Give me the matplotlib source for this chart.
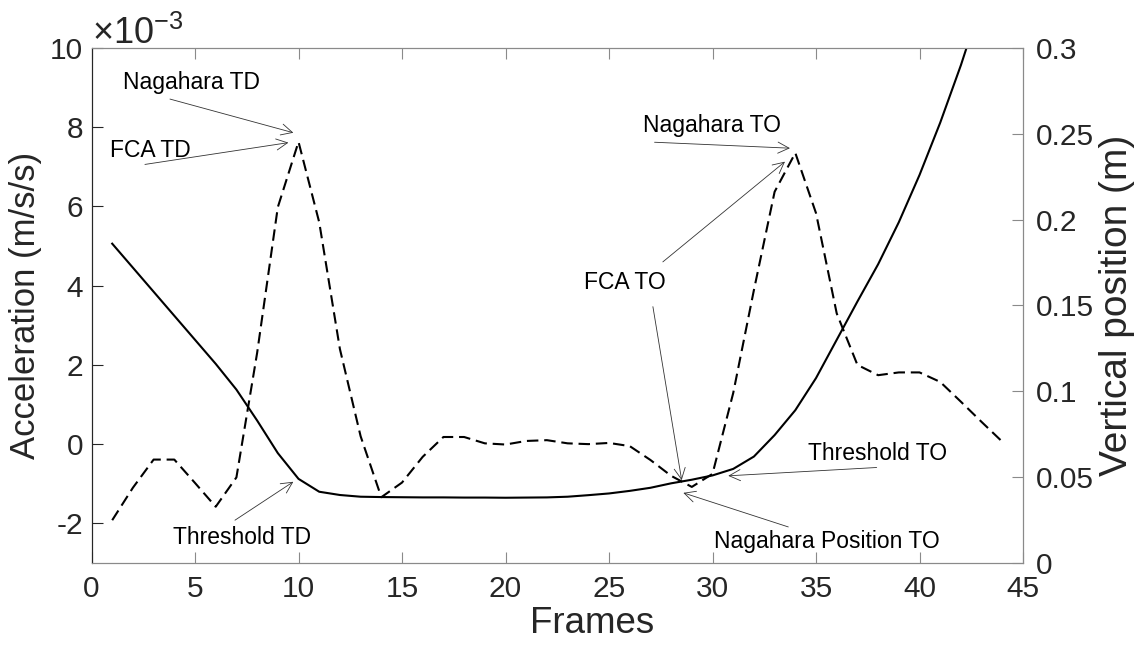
import matplotlib
matplotlib.use("Agg")
import matplotlib.pyplot as plt
from matplotlib.ticker import ScalarFormatter

plt.rcParams['font.family'] = ['Liberation Sans', 'DejaVu Sans']
plt.rcParams['mathtext.fontset'] = 'custom'
plt.rcParams['mathtext.rm'] = 'Liberation Sans'
plt.rcParams['mathtext.it'] = 'Liberation Sans:italic'
plt.rcParams['axes.unicode_minus'] = False

# Frame index
frames = list(range(1, 45))

# Vertical acceleration of the marker (m/s/s)
acceleration = [
    -1.92e-3, -1.10e-3, -0.39e-3, -0.39e-3, -0.98e-3, -1.58e-3, -0.84e-3, 2.30e-3,
    5.98e-3, 7.63e-3, 5.60e-3, 2.40e-3, 0.20e-3, -1.34e-3, -0.97e-3, -0.32e-3,
    0.18e-3, 0.18e-3, 0.02e-3, -0.01e-3, 0.08e-3, 0.10e-3, 0.02e-3, 0.00e-3,
    0.03e-3, -0.05e-3, -0.40e-3, -0.80e-3, -1.08e-3, -0.75e-3, 1.29e-3, 3.89e-3,
    6.37e-3, 7.35e-3, 5.83e-3, 3.30e-3, 2.00e-3, 1.74e-3, 1.81e-3, 1.81e-3,
    1.57e-3, 1.07e-3, 0.56e-3, 0.06e-3,
]

# Vertical position of the marker (m)
position = [
    0.186, 0.172, 0.158, 0.144, 0.130, 0.116, 0.101, 0.083,
    0.064, 0.049, 0.0415, 0.0396, 0.0386, 0.0384, 0.0383, 0.0382,
    0.0382, 0.0381, 0.0381, 0.0380, 0.0381, 0.0382, 0.0386, 0.0395,
    0.0405, 0.0420, 0.0438, 0.0464, 0.0485, 0.0510, 0.0548, 0.0620,
    0.0745, 0.0890, 0.1077, 0.1300, 0.1523, 0.1740, 0.1985, 0.2260,
    0.2565, 0.2900, 0.327, 0.367,
]

x_ticks = list(range(0, 46, 5))
acc_ticks = [-2e-3, 0, 2e-3, 4e-3, 6e-3, 8e-3, 10e-3]
pos_ticks = [0, 0.05, 0.1, 0.15, 0.2, 0.25, 0.3]
pos_tick_labels = ['0', '0.05', '0.1', '0.15', '0.2', '0.25', '0.3']

# Event markers: (label, text anchor (frame, acc), arrows [(tail, head)])
events = [
    ("Nagahara TD", (1.52, 8.96e-3), [((3.79, 8.71e-3), (9.75, 7.86e-3))]),
    ("FCA TD", (0.89, 7.24e-3), [((2.58, 7.06e-3), (9.51, 7.61e-3))]),
    ("Threshold TD", (3.92, -2.51e-3), [((6.93, -1.92e-3), (9.75, -0.95e-3))]),
    ("Nagahara TO", (26.66, 7.89e-3), [((27.2, 7.62e-3), (33.74, 7.47e-3))]),
    ("FCA TO", (23.79, 3.91e-3), [((27.6, 4.60e-3), (33.5, 7.13e-3)),
                                 ((27.12, 3.47e-3), (28.51, -0.91e-3))]),
    ("Threshold TO", (34.63, -0.39e-3), [((37.93, -0.59e-3), (30.76, -0.80e-3))]),
    ("Nagahara Position TO", (30.07, -2.61e-3), [((33.66, -2.09e-3), (28.59, -1.23e-3))]),
]


class ScaledFormatter(ScalarFormatter):
    """Scalar formatter with a common exponent; tick labels in plain text."""

    def __call__(self, x, pos=None):
        return f'{x / 10 ** self.orderOfMagnitude:g}'


fig = plt.figure(figsize=(11.41, 6.48), dpi=100)
ax = fig.add_axes([0.0802, 0.1312, 0.8164, 0.7948])
ax2 = ax.twinx()

dark = '#262626'
grey = '#8a8a8a'

ax.plot(frames, acceleration, color='black', lw=1.5, dashes=(5.5, 2.8))
ax2.plot(frames, position, color='black', lw=1.5)

ax.set_xlim(0, 45)
ax.set_ylim(-3e-3, 10e-3)
ax2.set_ylim(0, 0.3)

ax.set_xticks(x_ticks)
ax.set_yticks(acc_ticks)
ax2.set_yticks(pos_ticks)
ax2.set_yticklabels(pos_tick_labels)

fmt = ScaledFormatter(useMathText=True)
fmt.set_powerlimits((-3, -3))
ax.yaxis.set_major_formatter(fmt)
off = ax.yaxis.get_offset_text()
off.set_fontsize(26)
off.set_color(dark)

tick_fs = 21.5
ax.tick_params(axis='both', direction='in', length=8, width=0.8,
               labelsize=tick_fs, colors=dark, top=True, pad=6)
ax.tick_params(axis='x', colors=grey, labelcolor=dark, pad=9)
ax2.tick_params(axis='y', direction='in', length=8, width=0.8,
                labelsize=tick_fs, colors=grey, labelcolor=dark, pad=9)

for sp in ['top', 'bottom', 'right']:
    ax.spines[sp].set_color(grey)
    ax2.spines[sp].set_color(grey)
ax.spines['left'].set_color(dark)
ax2.spines['left'].set_color(dark)
for a in (ax, ax2):
    for sp in a.spines.values():
        sp.set_linewidth(0.8)

ax.set_xlabel('Frames', fontsize=26.5, color=dark)
ax.xaxis.set_label_coords(0.537, -0.083)
ax.set_ylabel('Acceleration (m/s/s)', fontsize=25, color=dark, labelpad=6)
ax2.set_ylabel('Vertical position (m)', fontsize=28, color=dark, labelpad=4)

for label, (tx, ty), arrows in events:
    ax.text(tx, ty, label, fontsize=16.5, color='black', ha='left', va='baseline')
    for tail, head in arrows:
        ax.annotate('', xy=head, xytext=tail,
                    arrowprops=dict(arrowstyle='->', color='#333333', lw=0.6,
                                    mutation_scale=20, shrinkA=0, shrinkB=0))

fig.savefig('out.png', dpi=100)
